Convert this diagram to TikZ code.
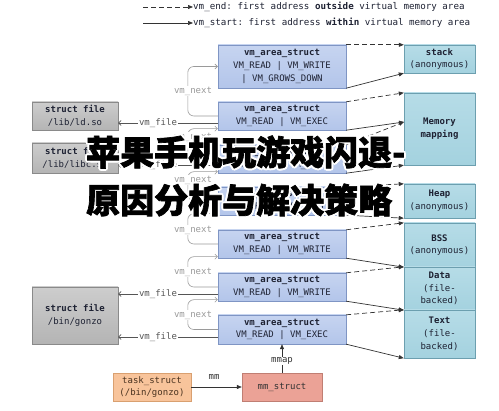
\documentclass[tikz,border=0pt]{standalone}
\usepackage{fontspec}
\setmonofont{DejaVu Sans Mono}
\newfontfamily\cjk{Noto Sans CJK SC}[BoldFeatures={FakeBold=2}]
\usetikzlibrary{arrows.meta}
\definecolor{vmfill}{HTML}{B3C5EA}
\definecolor{vmfilltop}{HTML}{C6D4F0}
\definecolor{vmdraw}{HTML}{7F95C4}
\definecolor{rgfill}{HTML}{A4D2DF}
\definecolor{rgfilltop}{HTML}{B6DCE7}
\definecolor{rgdraw}{HTML}{6C9FAF}
\definecolor{fifill}{HTML}{B4B4B4}
\definecolor{fifilltop}{HTML}{CDCDCD}
\definecolor{fidraw}{HTML}{8A8A8A}
\definecolor{txt}{HTML}{1E2233}
\definecolor{nextgray}{HTML}{9A9A9A}
\definecolor{filegray}{HTML}{555555}
\definecolor{taskfill}{HTML}{F8C49B}
\definecolor{taskdraw}{HTML}{D9A070}
\definecolor{tasktext}{HTML}{4A3320}
\definecolor{mmfill}{HTML}{EBA296}
\definecolor{mmdraw}{HTML}{C07E73}
\tikzset{
  base/.style={inner sep=0pt, align=center, text=txt,
    font=\ttfamily\fontsize{9}{12.7}\selectfont},
  vmbox/.style={base, draw=vmdraw, top color=vmfilltop, bottom color=vmfill,
    minimum width=128pt, minimum height=28pt},
  rgbox/.style={base, draw=rgdraw, top color=rgfilltop, bottom color=rgfill,
    minimum width=71pt},
  fibox/.style={base, draw=fidraw, top color=fifilltop, bottom color=fifill,
    minimum width=86pt},
  endarrow/.style={draw=black!80, line width=0.7pt, dash pattern=on 5pt off 3pt,
    -{Triangle[length=5pt,width=4pt]}},
  startarrow/.style={draw=black!80, line width=0.7pt,
    -{Triangle[length=5pt,width=4pt]}},
  nextarrow/.style={draw=nextgray, line width=0.6pt, rounded corners=6pt,
    -{Straight Barb[length=2.5pt,width=5pt]}},
  filearrow/.style={draw=filegray, line width=0.7pt,
    -{Straight Barb[length=2.5pt,width=5pt]}},
  nextlbl/.style={inner sep=1pt, fill=white, text=nextgray,
    font=\ttfamily\fontsize{9}{10}\selectfont},
  filelbl/.style={inner sep=1pt, fill=white, text=filegray,
    font=\ttfamily\fontsize{9}{10}\selectfont},
  leg/.style={anchor=west, inner sep=0pt, text=txt,
    font=\ttfamily\fontsize{9.2}{10}\selectfont},
  cjkline/.style={anchor=west, inner sep=0pt, font=\cjk\bfseries\fontsize{34}{36}\selectfont},
}
\begin{document}
\begin{tikzpicture}[x=1pt,y=-1pt]
\useasboundingbox (0,0) rectangle (499,411);
\fill[white] (0,0) rectangle (499,411);

% legend
\coordinate (l1s) at (143,7);
\coordinate (l2s) at (143,23);
\node[leg] (leg1) at (193,7) {vm\_end: first address \textbf{outside} virtual memory area};
\node[leg] (leg2) at (193,23) {vm\_start: first address \textbf{within} virtual memory area};
\draw[endarrow] (l1s) -- (leg1.west);
\draw[startarrow] (l2s) -- (leg2.west);

% vm_area_struct boxes
\node[vmbox, minimum height=43pt] (v1) at (282,66.5) {\textbf{vm\_area\_struct}\\VM\_READ | VM\_WRITE\\| VM\_GROWS\_DOWN};
\node[vmbox] (v2) at (282,116) {\textbf{vm\_area\_struct}\\VM\_READ | VM\_EXEC};
\node[vmbox] (v3) at (282,159) {\textbf{vm\_area\_struct}\\VM\_READ | VM\_EXEC};
\node[vmbox] (v4) at (282,201) {\textbf{vm\_area\_struct}\\VM\_READ | VM\_WRITE};
\node[vmbox] (v5) at (282,244) {\textbf{vm\_area\_struct}\\VM\_READ | VM\_WRITE};
\node[vmbox] (v6) at (282,287) {\textbf{vm\_area\_struct}\\VM\_READ | VM\_WRITE};
\node[vmbox, minimum height=29pt] (v7) at (282,329.5) {\textbf{vm\_area\_struct}\\VM\_READ | VM\_EXEC};

% region boxes
\node[rgbox, minimum height=28pt] (stack) at (439.5,59) {\textbf{stack}\\(anonymous)};
\node[rgbox, minimum height=72pt] (mmap) at (439.5,129) {\textbf{Memory}\\\textbf{mapping}};
\node[rgbox, minimum height=34pt] (heap) at (439.5,201) {\textbf{Heap}\\(anonymous)};
\node[rgbox, minimum height=44pt] (bss) at (439.5,245) {\textbf{BSS}\\(anonymous)};
\node[rgbox, minimum height=43pt] (data) at (439.5,288.5) {\textbf{Data}\\(file-\\backed)};
\node[rgbox, minimum height=48pt] (textseg) at (439.5,334) {\textbf{Text}\\(file-\\backed)};
\coordinate (mmid) at (404,122);

% file boxes
\node[fibox, minimum height=28pt] (ld) at (75,116) {\textbf{struct file}\\/lib/ld.so};
\node[fibox, minimum height=30pt] (libc) at (75,158) {\textbf{struct file}\\/lib/libc.so};
\node[fibox, minimum height=57pt] (gonzo) at (75,315.5) {\textbf{struct file}\\/bin/gonzo};

% task / mm
\node[base, draw=taskdraw, fill=taskfill, text=tasktext, minimum width=78pt, minimum height=28pt] (task) at (152,387) {task\_struct\\(/bin/gonzo)};
\node[base, draw=mmdraw, fill=mmfill, text=black!80, minimum width=80pt, minimum height=28pt] (mm) at (282,387) {mm\_struct};

% right side arrows
\draw[endarrow] (v1.north east) -- (stack.north west);
\draw[startarrow] (v1.south east) -- (stack.south west);
\draw[endarrow] (v2.north east) -- (mmap.north west);
\draw[startarrow] (v2.south east) -- (mmid);
\draw[endarrow] (v3.north east) -- (mmid);
\draw[startarrow] (v3.south east) -- (mmap.south west);
\draw[endarrow] (v4.north east) -- (heap.north west);
\draw[startarrow] (v4.south east) -- (heap.south west);
\draw[endarrow] (v5.north east) -- (bss.north west);
\draw[startarrow] (v5.south east) -- (bss.south west);
\draw[endarrow] (v6.north east) -- (data.north west);
\draw[startarrow] (v6.south east) -- (data.south west);
\draw[endarrow] (v7.north east) -- (textseg.north west);
\draw[startarrow] (v7.south east) -- (textseg.south west);

% vm_next links
\coordinate (in2) at ([yshift=1.5pt]v2.south west);
\coordinate (in3) at ([yshift=1.5pt]v3.south west);
\coordinate (in4) at ([yshift=1.5pt]v4.south west);
\coordinate (in5) at ([yshift=1.5pt]v5.south west);
\coordinate (in6) at ([yshift=1.5pt]v6.south west);
\draw[nextarrow] (v2.west) -- ++(-30,0) |- (v1.west);
\draw[nextarrow] (v3.west) -- ++(-30,0) |- (in2);
\draw[nextarrow] (v4.west) -- ++(-30,0) |- (in3);
\draw[nextarrow] (v5.west) -- ++(-30,0) |- (in4);
\draw[nextarrow] (v6.west) -- ++(-30,0) |- (in5);
\draw[nextarrow] (v7.west) -- ++(-30,0) |- (in6);
\node[nextlbl] (n1) at (193,91) {vm\_next};
\node[nextlbl] (n2) at (193,137) {vm\_next};
\node[nextlbl] (n3) at (193,180) {vm\_next};
\node[nextlbl] (n4) at (193,230) {vm\_next};
\node[nextlbl] (n5) at (193,272) {vm\_next};
\node[nextlbl] (n6) at (193,315) {vm\_next};

% vm_file links
\coordinate (o2) at ([yshift=-7pt]v2.west);
\coordinate (o3) at ([yshift=-6pt]v3.west);
\coordinate (o6) at ([yshift=-7pt]v6.west);
\coordinate (o7) at ([yshift=-7.5pt]v7.west);
\draw[filearrow] (o2) -- (ld.east |- o2);
\draw[filearrow] (o3) -- (libc.east |- o3);
\draw[filearrow] (o6) -- (gonzo.east |- o6);
\draw[filearrow] (o7) -- (gonzo.east |- o7);
\node[filelbl] (f1) at (158,123) {vm\_file};
\node[filelbl] (f2) at (158,165) {vm\_file};
\node[filelbl] (f3) at (158,294) {vm\_file};
\node[filelbl] (f4) at (158,337) {vm\_file};

% mm / mmap
\draw[startarrow, line width=0.6pt] (task.east) -- (mm.west);
\node[inner sep=0pt, text=black!80, font=\ttfamily\fontsize{9}{10}\selectfont] (mmlbl) at (214,377) {mm};
\draw[startarrow, line width=0.6pt] (mm.north) -- (v7.south);
\node[inner sep=1pt, fill=white, text=black!80, font=\ttfamily\fontsize{9}{10}\selectfont] (mmaplbl) at (282,361) {mmap};

% overlay title
\foreach \dx/\dy [count=\k] in {-2/0,2/0,0/-2,0/2,-1.5/-1.5,1.5/1.5,-1.5/1.5,1.5/-1.5}{
  \node[cjkline, text=white] (ha\k) at (86+\dx,152+\dy) {苹果手机玩游戏闪退-};
  \node[cjkline, text=white] (hb\k) at (86+\dx,200+\dy) {原因分析与解决策略};
}
\node[cjkline, text=black] (t1) at (86,152) {苹果手机玩游戏闪退-};
\node[cjkline, text=black] (t2) at (86,200) {原因分析与解决策略};
\end{tikzpicture}
\end{document}
